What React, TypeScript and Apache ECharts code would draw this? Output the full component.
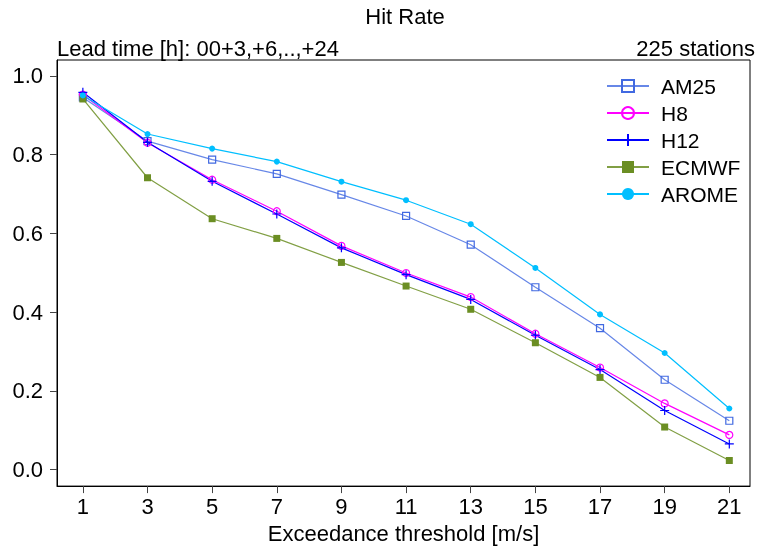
import React, { useEffect, useRef } from "react";
import * as echarts from "echarts";

const thresholds = [1, 3, 5, 7, 9, 11, 13, 15, 17, 19, 21];
const am25 = [0.945, 0.834, 0.787, 0.751, 0.698, 0.644, 0.571, 0.463, 0.359, 0.228, 0.124];
const h8 = [0.952, 0.83, 0.736, 0.656, 0.568, 0.499, 0.438, 0.345, 0.259, 0.168, 0.088];
const h12 = [0.958, 0.831, 0.732, 0.649, 0.563, 0.495, 0.432, 0.341, 0.254, 0.15, 0.065];
const ecmwf = [0.941, 0.741, 0.637, 0.587, 0.526, 0.466, 0.407, 0.322, 0.234, 0.108, 0.023];
const arome = [0.95, 0.852, 0.815, 0.782, 0.731, 0.684, 0.623, 0.512, 0.394, 0.296, 0.155];
const yTicks = [0, 0.2, 0.4, 0.6, 0.8, 1.0];
const seriesNames = ["AM25", "H8", "H12", "ECMWF", "AROME"];

const FONT = "'Liberation Sans', Arial, sans-serif";
const FS = 22;
const PLUS = "path://M0,5L10,5M5,0L5,10";

export default function App() {
  const ref = useRef<HTMLDivElement>(null);
  useEffect(() => {
    if (!ref.current) return;
    const chart = echarts.init(ref.current, undefined, { renderer: "svg" });
    const pts = (vals: number[]) => thresholds.map((t, i) => [t, vals[i]]);
    const mk = (
      name: string,
      vals: number[],
      color: string,
      symbol: string,
      size: number,
      filled: boolean,
      lineOpacity: number
    ) => ({
      name,
      type: "line",
      data: pts(vals),
      symbol,
      symbolSize: size,
      showAllSymbol: true,
      lineStyle: { color, width: 1.2, opacity: lineOpacity },
      itemStyle: filled
        ? { color, borderColor: color, borderWidth: 0 }
        : { color: "rgba(0,0,0,0)", borderColor: color, borderWidth: 1.2 },
      emphasis: { disabled: true },
    });
    chart.setOption({
      animation: false,
      textStyle: { fontFamily: FONT },
      grid: {
        left: 57,
        right: 8,
        top: 60,
        bottom: 60,
        show: true,
        borderColor: "#000",
        borderWidth: 1,
        backgroundColor: "transparent",
      },
      legend: {
        orient: "vertical",
        left: 601,
        top: 70,
        itemWidth: 42,
        itemHeight: 15,
        itemGap: 5,
        data: seriesNames,
        textStyle: { fontSize: 21, color: "#000", fontFamily: FONT, padding: [0, 0, 0, 7], lineHeight: 22 },
      },
      graphic: [
        {
          type: "text",
          x: 405,
          y: 16,
          style: { text: "Hit Rate", fontSize: FS, fontFamily: FONT, fill: "#000", textAlign: "center", textVerticalAlign: "middle" },
        },
        {
          type: "text",
          x: 57,
          y: 48,
          style: { text: "Lead time [h]: 00+3,+6,..,+24", fontSize: FS, fontFamily: FONT, fill: "#000", textAlign: "left", textVerticalAlign: "middle" },
        },
        {
          type: "text",
          x: 755,
          y: 48,
          style: { text: "225 stations", fontSize: FS, fontFamily: FONT, fill: "#000", textAlign: "right", textVerticalAlign: "middle" },
        },
      ],
      xAxis: {
        type: "value",
        min: 0.2,
        max: 21.64,
        name: "Exceedance threshold [m/s]",
        nameLocation: "middle",
        nameGap: 24,
        nameTextStyle: { fontSize: FS, color: "#000", fontFamily: FONT },
        axisLine: { show: true, onZero: false, lineStyle: { color: "#000", width: 1 } },
        axisTick: { show: true, length: 7, customValues: thresholds, lineStyle: { color: "#444" } },
        axisLabel: { customValues: thresholds, fontSize: FS, color: "#000", margin: 9, fontFamily: FONT },
        splitLine: { show: false },
      },
      yAxis: {
        type: "value",
        min: -0.042,
        max: 1.04,
        axisLine: { show: true, onZero: false, lineStyle: { color: "#000", width: 1 } },
        axisTick: { show: true, length: 7, customValues: yTicks, lineStyle: { color: "#444" } },
        axisLabel: {
          customValues: yTicks,
          fontSize: FS,
          color: "#000",
          margin: 14,
          fontFamily: FONT,
          formatter: (v: number) => v.toFixed(1),
        },
        splitLine: { show: false },
      },
      series: [
        mk("AM25", am25, "#4169E1", "rect", 7, false, 0.8),
        mk("H8", h8, "#FF00FF", "circle", 7, false, 1),
        mk("H12", h12, "#0000FF", PLUS, 9, false, 1),
        mk("ECMWF", ecmwf, "#6B8E23", "rect", 7, true, 0.85),
        mk("AROME", arome, "#00BFFF", "circle", 6, true, 1),
      ],
    });
    return () => chart.dispose();
  }, []);
  return <div ref={ref} style={{ position: "fixed", left: 0, top: 0, width: 758, height: 549 }} />;
}
